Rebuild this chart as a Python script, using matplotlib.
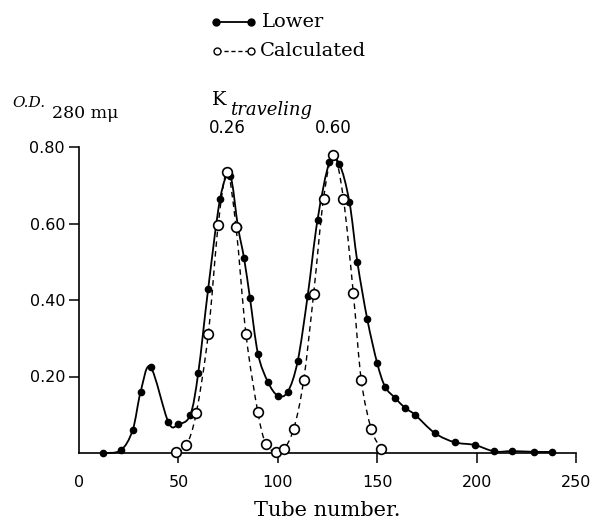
import numpy as np
import matplotlib
matplotlib.use("Agg")
import matplotlib.pyplot as plt
from matplotlib.path import Path
from matplotlib.patches import PathPatch
from matplotlib.lines import Line2D

# ---- data ----
lower_tube = [12, 21, 27, 31, 36, 45, 50, 56, 60, 65, 71, 76, 80, 83, 86, 90, 95,
              100, 105, 110, 115, 120, 126, 131, 136, 140, 145, 150, 154, 159,
              164, 169, 179, 189, 199, 209, 218, 229, 238]
lower_od = [0.0, 0.007, 0.06, 0.16, 0.225, 0.08, 0.075, 0.10, 0.21, 0.43, 0.665,
            0.725, 0.59, 0.51, 0.405, 0.26, 0.186, 0.15, 0.16, 0.24, 0.41, 0.61,
            0.76, 0.755, 0.657, 0.50, 0.35, 0.235, 0.173, 0.144, 0.118, 0.10,
            0.052, 0.028, 0.021, 0.004, 0.005, 0.003, 0.003]

calc_tube = [49, 54, 59, 65, 70, 74.5, 79, 84, 90, 94, 99, 103, 108, 113, 118,
             123, 128, 133, 138, 142, 147, 152]
calc_od = [0.002, 0.02, 0.105, 0.31, 0.595, 0.735, 0.59, 0.31, 0.106, 0.024,
           0.003, 0.01, 0.063, 0.19, 0.415, 0.665, 0.78, 0.665, 0.417, 0.19,
           0.063, 0.01]

x_ticks = [50, 100, 150, 200, 250]
x_ticklabels = ["50", "100", "150", "200", "250"]
y_ticks = [0.20, 0.40, 0.60, 0.80]
y_ticklabels = ["0.20", "0.40", "0.60", "0.80"]
k_labels = ["0.26", "0.60"]
k_positions = [74.5, 128]

W, H = 591, 525
fig = plt.figure(figsize=(W / 100, H / 100), dpi=100)
ax = fig.add_axes([79 / W, 1 - 453 / H, (576 - 79) / W, (453 - 147) / H])
ax.set_xlim(0, 250)
ax.set_ylim(0, 0.8)


def smooth_path(xs, ys):
    """Catmull-Rom through the data points, as cubic Bezier segments."""
    p = np.column_stack([xs, ys]).astype(float)
    verts = [p[0]]
    codes = [Path.MOVETO]
    n = len(p)
    for i in range(n - 1):
        p0 = p[i - 1] if i > 0 else p[i]
        p1, p2 = p[i], p[i + 1]
        p3 = p[i + 2] if i + 2 < n else p[i + 1]
        c1 = p1 + (p2 - p0) / 6.0
        c2 = p2 - (p3 - p1) / 6.0
        verts += [c1, c2, p2]
        codes += [Path.CURVE4] * 3
    return Path(verts, codes)


ax.add_patch(PathPatch(smooth_path(lower_tube, lower_od), fill=False,
                       edgecolor="black", lw=1.3, clip_on=False))
ax.add_patch(PathPatch(smooth_path(calc_tube, calc_od), fill=False,
                       edgecolor="black", lw=1.0, linestyle=(0, (4, 3)),
                       clip_on=False))
ax.plot(lower_tube, lower_od, "o", color="black", ms=4.5, clip_on=False, zorder=3)
ax.plot(calc_tube, calc_od, "o", mfc="white", mec="black", mew=1.2, ms=7,
        clip_on=False, zorder=4)

for s in ["top", "right"]:
    ax.spines[s].set_visible(False)
for s in ["left", "bottom"]:
    ax.spines[s].set_linewidth(1.2)

ax.set_xticks([0] + x_ticks)
ax.set_xticklabels(["0"] + x_ticklabels)
ax.set_yticks(y_ticks)
ax.set_yticklabels(y_ticklabels)
ax.tick_params(axis="both", direction="out", length=7, width=1.1,
               labelsize=11.5, pad=3)
ax.tick_params(axis="x", pad=9)
ax.xaxis.get_major_ticks()[0].tick1line.set_visible(False)

ax.set_xlabel("Tube number.", family="DejaVu Serif", fontsize=15, labelpad=8)

# y-axis title
fig.text(12 / W, 1 - 103 / H, "O.D.", family="DejaVu Serif", fontsize=11,
         va="center", ha="left", style="italic")
fig.text(52 / W, 1 - 113 / H, "280 m\u03bc", family="DejaVu Serif", fontsize=12.5,
         va="center", ha="left")

# K traveling
fig.text(212 / W, 1 - 100 / H, "K", family="DejaVu Serif", fontsize=14,
         va="center", ha="left")
fig.text(230 / W, 1 - 110 / H, "traveling", family="DejaVu Serif", fontsize=13,
         va="center", ha="left", style="italic")
for lab, pos in zip(k_labels, k_positions):
    ax.annotate(lab, xy=(pos, 1), xycoords=("data", "axes fraction"),
                xytext=(0, 14), textcoords="offset points", ha="center",
                va="center", fontsize=12, annotation_clip=False)

# legend drawn by hand
fig.add_artist(Line2D([216 / W, 251 / W], [1 - 22 / H, 1 - 22 / H],
                      transform=fig.transFigure, color="black", lw=1.3,
                      marker="o", ms=5))
fig.add_artist(Line2D([217 / W, 251 / W], [1 - 51 / H, 1 - 51 / H],
                      transform=fig.transFigure, color="black", lw=1.0,
                      linestyle=(0, (3, 2)), marker="o", mfc="white", ms=5,
                      mew=1.0))
fig.text(262 / W, 1 - 22 / H, "Lower", family="DejaVu Serif", fontsize=14,
         va="center", ha="left")
fig.text(260 / W, 1 - 51 / H, "Calculated", family="DejaVu Serif", fontsize=14,
         va="center", ha="left")

fig.savefig("out.png", dpi=100)
